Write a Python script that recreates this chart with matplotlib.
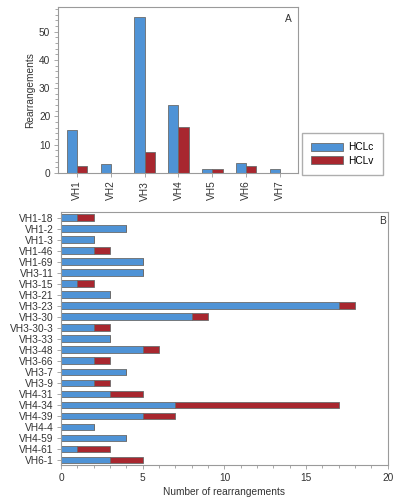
import matplotlib
matplotlib.use('Agg')
import matplotlib.pyplot as plt
import numpy as np
from matplotlib.ticker import MultipleLocator

# panel A data
families = ['VH1', 'VH2', 'VH3', 'VH4', 'VH5', 'VH6', 'VH7']
fam_hclc = [15.3, 3.3, 55, 24.2, 1.5, 3.5, 1.4]
fam_hclv = [2.3, 0, 7.5, 16.2, 1.5, 2.5, 0]

# panel B data
genes = ['VH1-18', 'VH1-2', 'VH1-3', 'VH1-46', 'VH1-69', 'VH3-11', 'VH3-15',
         'VH3-21', 'VH3-23', 'VH3-30', 'VH3-30-3', 'VH3-33', 'VH3-48', 'VH3-66',
         'VH3-7', 'VH3-9', 'VH4-31', 'VH4-34', 'VH4-39', 'VH4-4', 'VH4-59',
         'VH4-61', 'VH6-1']
gene_hclc = [1, 4, 2, 2, 5, 5, 1, 3, 17, 8, 2, 3, 5, 2, 4, 2, 3, 7, 5, 2, 4, 1, 3]
gene_hclv = [1, 0, 0, 1, 0, 0, 1, 0, 1, 1, 1, 0, 1, 1, 0, 1, 2, 10, 2, 0, 0, 2, 2]

blue = '#4f93d6'
red = '#a8272f'
edge = '#6b6b6b'
spine = '#9a9a9a'
txt = '#333333'

plt.rcParams['font.family'] = ['Liberation Sans', 'DejaVu Sans']
plt.rcParams['font.size'] = 7.3

fig = plt.figure(figsize=(3.99, 5.0), dpi=100)

# ---- panel A ----
ax1 = fig.add_axes([0.145, 0.654, 0.602, 0.332])
x = np.arange(len(families))
w = 0.3
b1 = ax1.bar(x - w / 2, fam_hclc, w, color=blue, edgecolor=edge, linewidth=0.6, label='HCLc')
b2 = ax1.bar(x + w / 2, fam_hclv, w, color=red, edgecolor=edge, linewidth=0.6, label='HCLv')
ax1.set_xlim(-0.56, 6.53)
ax1.set_ylim(0, 58.7)
ax1.set_xticks(x)
ax1.set_xticklabels(families, rotation=90)
ax1.yaxis.set_major_locator(MultipleLocator(10))
ax1.yaxis.set_minor_locator(MultipleLocator(2))
ax1.set_ylabel('Rearrangements', color=txt)
ax1.yaxis.set_label_coords(-0.095, 0.5)
ax1.text(0.975, 0.955, 'A', transform=ax1.transAxes, ha='right', va='top', color=txt)
fig.legend(handles=[b1, b2], loc='center', bbox_to_anchor=(0.858, 0.692),
           frameon=True, fancybox=False, edgecolor=spine, handlelength=3.2,
           handleheight=0.8, borderpad=0.9, labelspacing=0.35, handletextpad=0.5,
           fontsize=7.3)

# ---- panel B ----
ax2 = fig.add_axes([0.153, 0.07, 0.819, 0.506])
y = np.arange(len(genes))
h = 0.62
ax2.barh(y, gene_hclc, h, color=blue, edgecolor=edge, linewidth=0.6)
ax2.barh(y, gene_hclv, h, left=gene_hclc, color=red, edgecolor=edge, linewidth=0.6)
ax2.set_ylim(len(genes) - 0.55, -0.52)
ax2.set_xlim(0, 20)
ax2.set_yticks(y)
ax2.set_yticklabels(genes)
ax2.xaxis.set_major_locator(MultipleLocator(5))
ax2.xaxis.set_minor_locator(MultipleLocator(1))
ax2.set_xlabel('Number of rearrangements', color=txt, labelpad=3)
ax2.text(0.993, 0.985, 'B', transform=ax2.transAxes, ha='right', va='top', color=txt)

for ax in (ax1, ax2):
    for s in ax.spines.values():
        s.set_color(spine)
        s.set_linewidth(0.8)
    ax.tick_params(which='both', colors=spine, labelcolor=txt, length=3, width=0.6, pad=2.5)
    ax.tick_params(which='minor', length=2)

fig.savefig('out.png', dpi=100)
